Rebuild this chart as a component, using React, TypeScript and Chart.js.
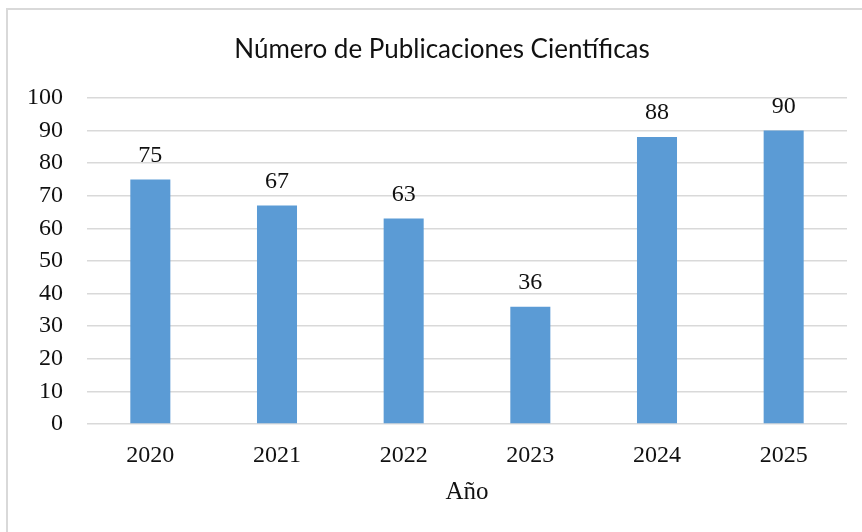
import React, { useEffect, useRef } from "react";
import { Chart, registerables } from "chart.js";

Chart.register(...registerables);

const chartTitle = "Número de Publicaciones Científicas";
const xAxisTitle = "Año";
const years = ["2020", "2021", "2022", "2023", "2024", "2025"];
const publications = [75, 67, 63, 36, 88, 90];
const yMin = 0;
const yMax = 100;
const yStep = 10;

const serif = "'Liberation Serif', 'DejaVu Serif', serif";
const sans = "Lato, 'Open Sans', sans-serif";

export default function App() {
  const canvasRef = useRef<HTMLCanvasElement | null>(null);

  useEffect(() => {
    document.body.style.margin = "0";
    const canvas = canvasRef.current;
    if (!canvas) return;

    const labelPlugin = {
      id: "barLabels",
      afterDatasetsDraw(chart: any) {
        const ctx = chart.ctx;
        const meta = chart.getDatasetMeta(0);
        ctx.save();
        ctx.fillStyle = "#111";
        ctx.font = `24px ${serif}`;
        ctx.textAlign = "center";
        ctx.textBaseline = "middle";
        meta.data.forEach((bar: any, i: number) => {
          ctx.fillText(String(publications[i]), bar.x, bar.y - 24);
        });
        ctx.restore();
      },
      afterDraw(chart: any) {
        const ctx = chart.ctx;
        ctx.save();
        ctx.fillStyle = "#111";
        ctx.font = `26px ${sans}`;
        ctx.textAlign = "center";
        ctx.textBaseline = "middle";
        ctx.fillText(chartTitle, 442, 50);
        ctx.restore();
      },
    };

    const chart = new Chart(canvas, {
      type: "bar",
      data: {
        labels: years,
        datasets: [
          {
            data: publications,
            backgroundColor: "#5b9bd5",
            borderWidth: 0,
            categoryPercentage: 1,
            barPercentage: 0.316,
          },
        ],
      },
      options: {
        animation: false,
        responsive: false,
        maintainAspectRatio: false,
        layout: { padding: { top: 98, right: 15, bottom: 0, left: 0 } },
        plugins: {
          legend: { display: false },
          title: { display: false },
          tooltip: { enabled: false },
        },
        scales: {
          x: {
            grid: { display: false, drawTicks: false },
            border: { display: false },
            ticks: {
              color: "#111",
              font: { family: serif, size: 24 },
              padding: 17,
              maxRotation: 0,
            },
            title: {
              display: true,
              text: xAxisTitle,
              color: "#111",
              font: { family: serif, size: 25 },
              padding: { top: 0, bottom: 25 },
            },
            afterFit(scale: any) {
              scale.height = 108;
            },
          },
          y: {
            min: yMin,
            max: yMax,
            grid: { color: "#d9d9d9", lineWidth: 1.5, drawTicks: false },
            border: { display: false },
            ticks: {
              stepSize: yStep,
              color: "#111",
              font: { family: serif, size: 24 },
              padding: 24,
            },
            afterFit(scale: any) {
              scale.width = 87;
            },
          },
        },
      },
      plugins: [labelPlugin],
    });

    return () => chart.destroy();
  }, []);

  return (
    <div style={{ position: "relative", width: 862, height: 532, background: "#fff", overflow: "hidden" }}>
      <div
        style={{
          position: "absolute",
          left: 6,
          top: 8,
          width: 900,
          height: 600,
          borderTop: "2px solid #d9d9d9",
          borderLeft: "2px solid #d9d9d9",
          boxSizing: "border-box",
        }}
      />
      <canvas
        ref={canvasRef}
        width={862}
        height={532}
        style={{ position: "absolute", left: 0, top: 0, width: 862, height: 532 }}
      />
    </div>
  );
}
